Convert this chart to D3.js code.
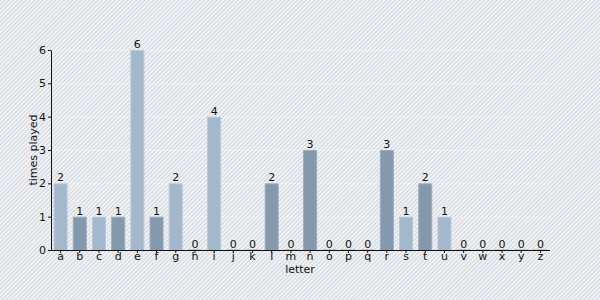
<!DOCTYPE html>
<html>
<head>
<meta charset="utf-8">
<script src="https://cdn.jsdelivr.net/npm/d3@7"></script>
<style>
  body { margin: 0; }
  svg { display: block; font-family: "DejaVu Sans", Verdana, sans-serif; }
</style>
</head>
<body>
<script>
const letters = 'abcdefghijklmnopqrstuvwxyz'.split('');
const timesPlayed = [2, 1, 1, 1, 6, 1, 2, 0, 4, 0, 0, 2, 0, 3, 0, 0, 0, 3, 1, 2, 1, 0, 0, 0, 0, 0];
const shade = ['l', 'd', 'l', 'd', 'l', 'd', 'l', 'l', 'l', 'l', 'l', 'd', 'l', 'd', 'l', 'l', 'l', 'd', 'l', 'd', 'l', 'l', 'l', 'l', 'l', 'l'];
const yTicks = [0, 1, 2, 3, 4, 5, 6];

const width = 600;
const height = 300;

const svg = d3.select('body').append('svg')
  .attr('width', width)
  .attr('height', height);

// striped background
const defs = svg.append('defs');
const pat = defs.append('pattern')
  .attr('id', 'stripes')
  .attr('patternUnits', 'userSpaceOnUse')
  .attr('width', 3)
  .attr('height', 3)
  .attr('patternTransform', 'rotate(45)');
pat.append('rect').attr('width', 3).attr('height', 3).attr('fill', '#eff1f4');
pat.append('line')
  .attr('x1', 0.5).attr('y1', 0).attr('x2', 0.5).attr('y2', 3)
  .attr('stroke', '#d2d7dd').attr('stroke-width', 1);

svg.append('rect')
  .attr('width', width)
  .attr('height', height)
  .attr('fill', 'url(#stripes)');

const x = d3.scaleBand()
  .domain(letters)
  .range([51, 550])
  .paddingInner(0.27)
  .paddingOuter(0.135);

const y = d3.scaleLinear()
  .domain([0, 6])
  .range([250, 50]);

// faint gridlines
svg.append('g')
  .selectAll('line')
  .data(yTicks.slice(1))
  .enter().append('line')
  .attr('x1', 51).attr('x2', 550)
  .attr('y1', d => y(d) + 0.5).attr('y2', d => y(d) + 0.5)
  .attr('stroke', '#ffffff')
  .attr('stroke-opacity', 0.35);

const colors = { l: '#a3b8cc', d: '#8599ae' };
const strokes = { l: '#b8c9d9', d: '#9aacbe' };

svg.append('g')
  .selectAll('rect')
  .data(letters)
  .enter().append('rect')
  .attr('x', d => x(d) + 0.5)
  .attr('y', (d, i) => y(timesPlayed[i]) + 0.5 - (timesPlayed[i] === 0 ? 1 : 0))
  .attr('width', x.bandwidth() - 1)
  .attr('height', (d, i) => Math.max(1, y(0) - y(timesPlayed[i])))
  .attr('fill', (d, i) => colors[shade[i]])
  .attr('stroke', (d, i) => strokes[shade[i]])
  .attr('stroke-width', 1);

// value labels
svg.append('g')
  .selectAll('text')
  .data(letters)
  .enter().append('text')
  .attr('x', d => x(d) + x.bandwidth() / 2)
  .attr('y', (d, i) => y(timesPlayed[i]) - 2)
  .attr('text-anchor', 'middle')
  .attr('font-size', 11)
  .attr('fill', '#111')
  .text((d, i) => timesPlayed[i]);

const xAxis = svg.append('g')
  .attr('transform', 'translate(0,250)')
  .call(d3.axisBottom(x).tickSize(3).tickSizeOuter(0).tickPadding(-1));

const yAxis = svg.append('g')
  .attr('transform', 'translate(51,0)')
  .call(d3.axisLeft(y).tickValues(yTicks).tickFormat(d3.format('d')).tickSize(3).tickSizeOuter(0).tickPadding(2));

[xAxis, yAxis].forEach(a => {
  a.selectAll('text').attr('font-size', 11).attr('fill', '#111').attr('font-family', '"DejaVu Sans", Verdana, sans-serif');
  a.selectAll('line').attr('stroke', '#111');
  a.select('.domain').attr('stroke', '#111');
});
xAxis.select('.domain').attr('d', 'M51,0.5H550');

svg.append('text')
  .attr('x', 300)
  .attr('y', 273)
  .attr('text-anchor', 'middle')
  .attr('font-size', 11)
  .attr('fill', '#111')
  .text('letter');

svg.append('text')
  .attr('transform', 'translate(37,150) rotate(-90)')
  .attr('text-anchor', 'middle')
  .attr('font-size', 11)
  .attr('fill', '#111')
  .text('times played');
</script>
</body>
</html>
